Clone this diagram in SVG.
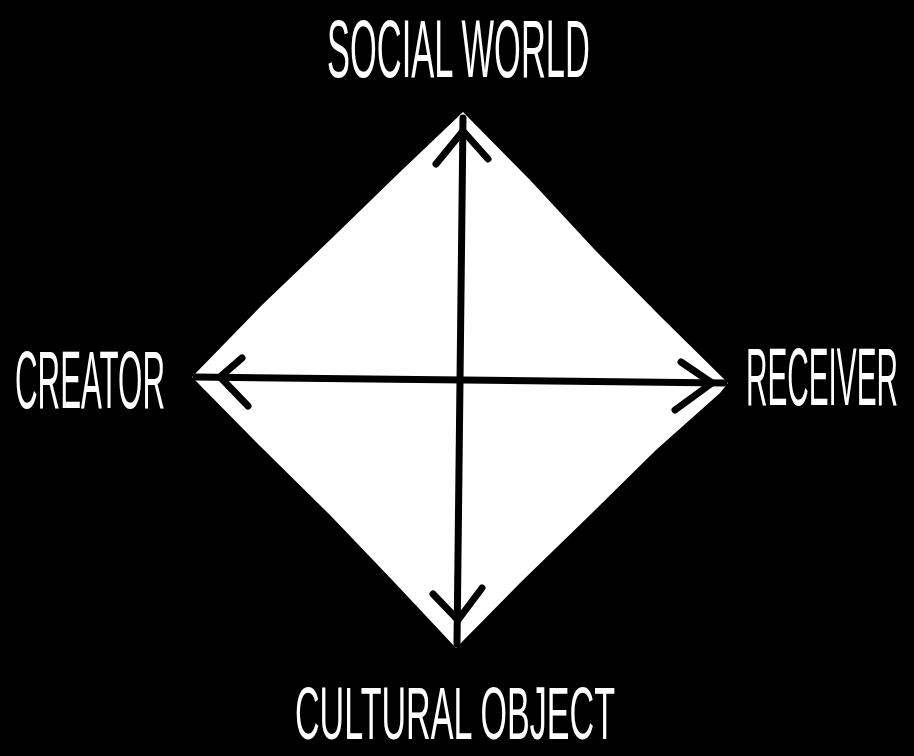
<svg xmlns="http://www.w3.org/2000/svg" width="914" height="756" viewBox="0 0 914 756">
<style>
.lbl{font-family:"Liberation Sans","DejaVu Sans",sans-serif;font-size:82px;fill:#fff;font-weight:normal}
.ln{stroke:#000;stroke-width:7;fill:none;stroke-linecap:round;stroke-linejoin:round}
</style>
<rect width="914" height="756" fill="#000"/>
<g id="diamond">
<polygon points="463,112 400,172 330,240 262,305 192,377 260,446 330,515 395,583 456,648 520,583 590,515 656,450 720,393 728,383 660,316 595,250 530,180" fill="#fff"/>
</g>
<g id="connectors">
<path class="ln" d="M463,118 L457,644"/>
<path class="ln" d="M196,377 L724,383"/>
<path class="ln" d="M436,164 L463,131 L488,159"/>
<path class="ln" d="M242,358 L220,377 L248,406"/>
<path class="ln" d="M681,362 L712,383 L675,410"/>
<path class="ln" d="M433,594 L458,620 L482,588"/>
</g>
<g id="social-world"><text class="lbl" transform="translate(327,77) scale(0.4,1)" x="0" y="0" textLength="657" lengthAdjust="spacingAndGlyphs">SOCIAL WORLD</text></g>
<g id="creator"><text class="lbl" transform="translate(15,408) scale(0.4,1)" x="0" y="0" textLength="375" lengthAdjust="spacingAndGlyphs">CREATOR</text></g>
<g id="receiver"><text class="lbl" transform="translate(746,405) scale(0.4,1)" x="0" y="0" textLength="380" lengthAdjust="spacingAndGlyphs">RECEIVER</text></g>
<g id="cultural-object"><text class="lbl" style="font-size:75px" transform="translate(295,739) scale(0.4,1)" x="0" y="0" textLength="800" lengthAdjust="spacingAndGlyphs">CULTURAL OBJECT</text></g>
</svg>
